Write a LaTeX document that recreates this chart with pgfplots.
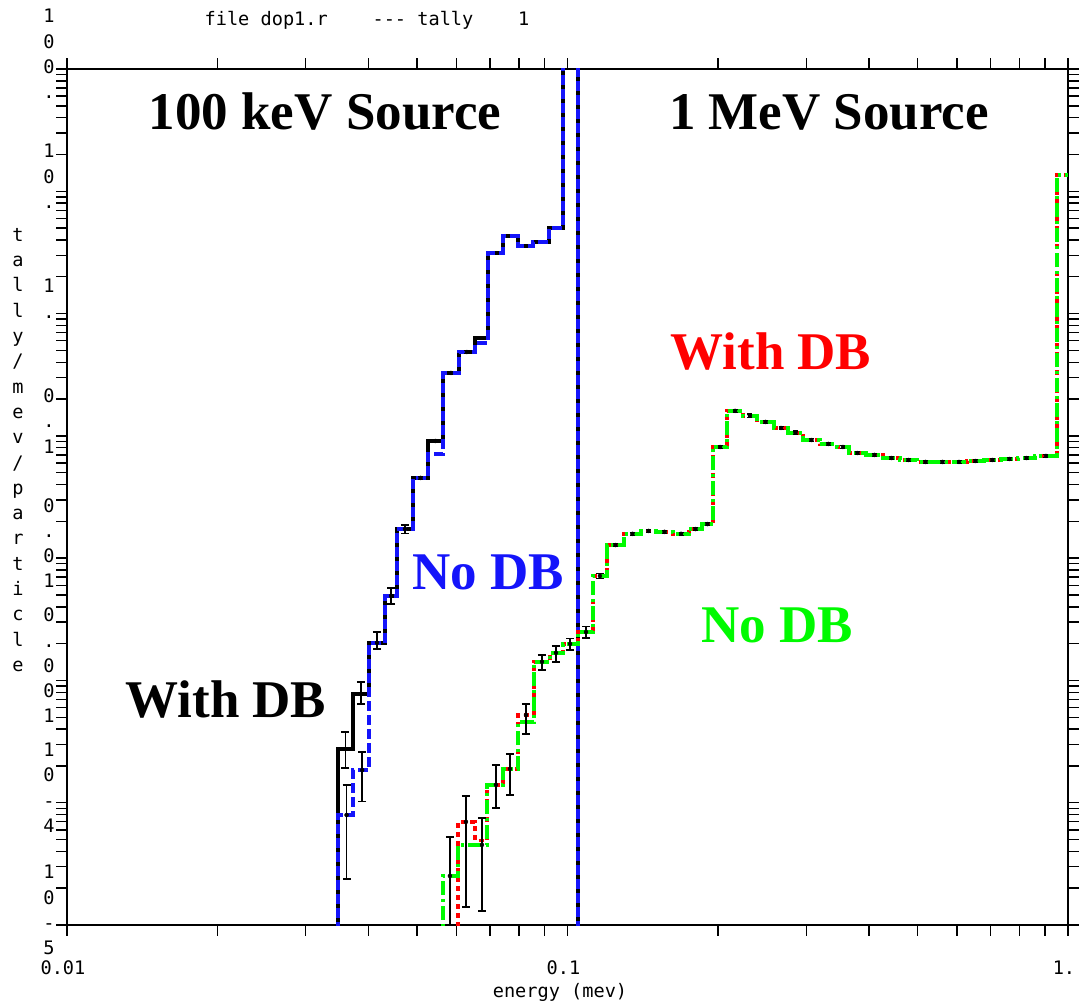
\documentclass[border=0pt]{standalone}
\usepackage{fontspec}
\setmainfont{Liberation Serif}
\newfontfamily\mono{DejaVu Sans Mono}
\usepackage{pgfplots}
\pgfplotsset{compat=1.18}
\newcommand\lbl{\mono\fontsize{18.6}{25.3}\selectfont}
\newcommand\bigtxt{\fontsize{53}{60}\selectfont\bfseries}
\definecolor{cblue}{RGB}{20,20,250}
\definecolor{cgreen}{RGB}{0,250,0}
\definecolor{cred}{RGB}{255,0,0}
\begin{document}
\begin{tikzpicture}
\path[use as bounding box] (-67pt,-79pt) rectangle (1015pt,925pt);
\begin{axis}[
  at={(0pt,0pt)}, anchor=south west,
  scale only axis, width=1001pt, height=856pt,
  xmode=log, ymode=log,
  xmin=0.01, xmax=1, ymin=1e-5, ymax=100,
  axis line style={line width=1.8pt},
  tick align=outside,
  major tick length=11pt, minor tick length=11pt,
  every tick/.style={black, line width=1.4pt},
  xtick={0.01,0.1,1}, xticklabels={0.01,0.1,1.},
  minor xtick={0.02,0.03,0.04,0.05,0.06,0.07,0.08,0.09,0.2,0.3,0.4,0.5,0.6,0.7,0.8,0.9},
  ytick={1e-5,1e-4,1e-3,1e-2,1e-1,1,10,100},
  minor ytick={2e-5,3e-5,4e-5,5e-5,6e-5,7e-5,8e-5,9e-5,
    2e-4,3e-4,4e-4,5e-4,6e-4,7e-4,8e-4,9e-4,
    2e-3,3e-3,4e-3,5e-3,6e-3,7e-3,8e-3,9e-3,
    0.02,0.03,0.04,0.05,0.06,0.07,0.08,0.09,
    0.2,0.3,0.4,0.5,0.6,0.7,0.8,0.9,
    2,3,4,5,6,7,8,9,20,30,40,50,60,70,80,90},
  yticklabels={{1\\0\\-\\5},{1\\0\\-\\4},{0\\.\\0\\0\\1},{0\\.\\0\\1},{0\\.\\1},{1\\.},{1\\0\\.},{1\\0\\0\\.}},
  xticklabel style={font=\lbl, anchor=center, yshift=-32pt, xshift=-4pt},
  yticklabel style={font=\lbl, align=center, anchor=center, xshift=-7pt, yshift=15pt},
  clip=true,
]
% 100 keV, with DB (black solid)
\addplot[black, line width=3.5pt, const plot] coordinates {
(0.03479,1e-7) (0.03479,2.75e-4) (0.03727,7.76e-4) (0.04012,2.03e-3) (0.04319,4.91e-3)
(0.04563,1.73e-2) (0.04913,4.53e-2) (0.05264,9.08e-2) (0.05638,0.327) (0.06069,0.485)
(0.06535,0.631) (0.06937,3.13) (0.07432,4.31) (0.07963,3.57) (0.08533,3.85)
(0.09183,5.01) (0.09795,1e4) (0.1049,1e-7)};
% 100 keV, no DB (blue dashed)
\addplot[cblue, line width=3.5pt, const plot, dash pattern=on 10pt off 4pt] coordinates {
(0.03479,1e-7) (0.03479,7.94e-5) (0.03727,1.85e-4) (0.04012,2.03e-3) (0.04319,4.91e-3)
(0.04563,1.73e-2) (0.04913,4.53e-2) (0.05264,7.11e-2) (0.05638,0.327) (0.06069,0.485)
(0.06535,0.575) (0.06937,3.13) (0.07432,4.31) (0.07963,3.57) (0.08533,3.85)
(0.09183,5.01) (0.09795,1e4) (0.1049,1e-7)};
% 1 MeV, with DB (red dotted)
\addplot[cred, line width=3.5pt, const plot, dash pattern=on 5pt off 4pt] coordinates {
(0.06041,1e-7) (0.06041,6.97e-5) (0.06535,4.9e-5) (0.06905,1.40e-4) (0.07432,1.89e-4)
(0.07963,5.22e-4) (0.08573,1.42e-3) (0.09226,1.68e-3) (0.09795,1.99e-3) (0.1049,2.49e-3)
(0.1124,7.15e-3) (0.1199,1.28e-2) (0.1297,1.58e-2) (0.1402,1.67e-2) (0.1503,1.64e-2)
(0.1625,1.58e-2) (0.1749,1.73e-2) (0.1857,1.90e-2) (0.1953,8.11e-2) (0.2084,0.160)
(0.2242,0.146) (0.2391,0.130) (0.2586,0.116) (0.2758,0.106) (0.2955,0.0925)
(0.3195,0.0859) (0.3455,0.0811) (0.3651,0.0724) (0.3948,0.0698) (0.4270,0.0659)
(0.4616,0.0635) (0.4993,0.0612) (0.5399,0.0612) (0.5839,0.0612) (0.6285,0.0623)
(0.6796,0.0635) (0.7346,0.0647) (0.7947,0.0659) (0.8592,0.0685) (0.9506,13.6) (1.0,13.6)};
% 1 MeV, no DB (green dash-dot)
\addplot[cgreen, line width=3.5pt, const plot, dash pattern=on 14pt off 4pt on 3pt off 4pt] coordinates {
(0.05638,1e-7) (0.05638,2.52e-5) (0.06041,4.52e-5) (0.06905,1.40e-4) (0.07432,1.89e-4)
(0.07963,4.58e-4) (0.08573,1.42e-3) (0.09226,1.68e-3) (0.09795,1.99e-3) (0.1049,2.49e-3)
(0.1124,7.15e-3) (0.1199,1.28e-2) (0.1297,1.58e-2) (0.1402,1.67e-2) (0.1503,1.64e-2)
(0.1625,1.58e-2) (0.1749,1.73e-2) (0.1857,1.90e-2) (0.1953,8.11e-2) (0.2084,0.160)
(0.2242,0.146) (0.2391,0.130) (0.2586,0.116) (0.2758,0.106) (0.2955,0.0925)
(0.3195,0.0859) (0.3455,0.0811) (0.3651,0.0724) (0.3948,0.0698) (0.4270,0.0659)
(0.4616,0.0635) (0.4993,0.0612) (0.5399,0.0612) (0.5839,0.0612) (0.6285,0.0623)
(0.6796,0.0635) (0.7346,0.0647) (0.7947,0.0659) (0.8592,0.0685) (0.9506,13.6) (1.0,13.6)};
% error bars (explicit)
\addplot[only marks, mark=none, error bars/.cd, y dir=both, y explicit,
  error bar style={black, solid, line width=1.5pt},
  error mark options={black, solid, line width=1.5pt, mark size=4pt, rotate=90}] coordinates {
(0.0360,2.75e-4) += (0,1.04e-4) -= (0,0.83e-4)
(0.0362,7.94e-5) += (0,6.06e-5) -= (0,5.56e-5)
(0.03868,7.76e-4) += (0,1.96e-4) -= (0,1.33e-4)
(0.03890,1.85e-4) += (0,7.5e-5) -= (0,8.3e-5)
(0.04163,2.03e-3) += (0,4.6e-4) -= (0,2.2e-4)
(0.04441,4.91e-3) += (0,8e-4) -= (0,7e-4)
(0.04735,1.73e-2) += (0,1.4e-3) -= (0,1.4e-3)
(0.05823,2.52e-5) += (0,2.73e-5) -= (0,2.5e-5)
(0.06268,6.97e-5) += (0,4.43e-5) -= (0,5.56e-5)
(0.06748,4.52e-5) += (0,3.0e-5) -= (0,3.22e-5)
(0.07196,1.40e-4) += (0,6.4e-5) -= (0,4.94e-5)
(0.07675,1.89e-4) += (0,6.2e-5) -= (0,7.3e-5)
(0.08262,5.22e-4) += (0,1.21e-4) -= (0,1.56e-4)
(0.08894,1.42e-3) += (0,2e-4) -= (0,2e-4)
(0.09484,1.68e-3) += (0,2.3e-4) -= (0,2.6e-4)
(0.1012,1.99e-3) += (0,2.2e-4) -= (0,2.2e-4)
(0.1089,2.49e-3) += (0,2.6e-4) -= (0,2.6e-4)
(0.1161,7.15e-3) += (0,3.6e-4) -= (0,3.6e-4)
};
% small error bars (appear as dots)
\addplot[only marks, mark=none, error bars/.cd, y dir=both, y fixed relative=0.03,
  error bar style={black, solid, line width=1.5pt},
  error mark options={black, solid, line width=1.5pt, mark size=2.5pt, rotate=90}] coordinates {
(0.1247,1.28e-2) (0.1348,1.58e-2) (0.1452,1.67e-2) (0.1563,1.64e-2) (0.1686,1.58e-2)
(0.1802,1.73e-2) (0.1904,1.90e-2) (0.2018,8.11e-2) (0.2162,0.160) (0.2315,0.146)
(0.2487,0.130) (0.2671,0.116) (0.2855,0.106) (0.3073,0.0925) (0.3322,0.0859)
(0.3552,0.0811) (0.3797,0.0724) (0.4106,0.0698) (0.4440,0.0659) (0.4801,0.0635)
(0.5192,0.0612) (0.5615,0.0612) (0.6058,0.0612) (0.6535,0.0623) (0.7066,0.0635)
(0.7641,0.0647) (0.8263,0.0659) (0.9037,0.0685)
(0.05087,4.53e-2) (0.05448,9.08e-2) (0.05850,0.327) (0.06298,0.485)};
\end{axis}
\node[font=\lbl] at (300pt,905pt) {file dop1.r\ \ \ \ {-}{-}{-} tally\ \ \ \ 1};
\node[font=\lbl] at (493pt,-67pt) {energy (mev)};
\node[font=\lbl, align=center] at (-49pt,475pt) {t\\a\\l\\l\\y\\/\\m\\e\\v\\/\\p\\a\\r\\t\\i\\c\\l\\e};
\node[font=\bigtxt, text=black] at (258pt,813pt) {100 keV Source};
\node[font=\bigtxt, text=black] at (762pt,813pt) {1 MeV Source};
\node[font=\bigtxt, text=cred] at (704pt,573pt) {With DB};
\node[font=\bigtxt, text=cblue] at (421pt,353pt) {No DB};
\node[font=\bigtxt, text=cgreen] at (710pt,300pt) {No DB};
\node[font=\bigtxt, text=black] at (159pt,225pt) {With DB};
\end{tikzpicture}
\end{document}
